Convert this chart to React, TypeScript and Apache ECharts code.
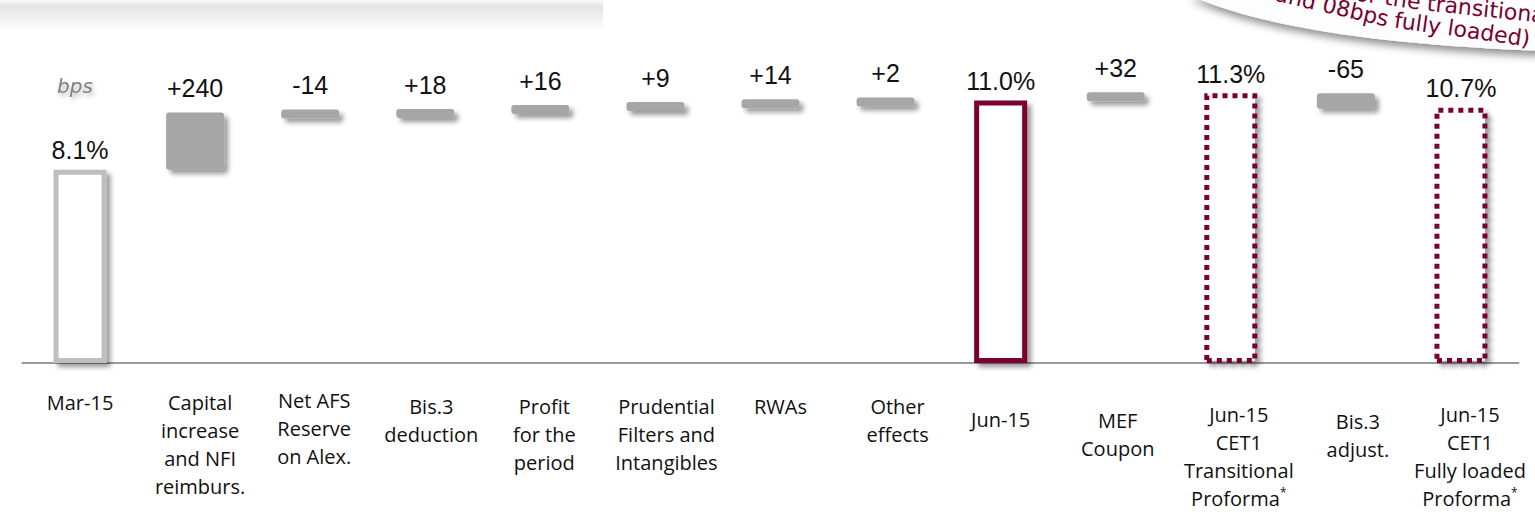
import React, { useEffect, useRef } from "react";
import * as echarts from "echarts";

// ---------- data ----------
const categories = [
  "Mar-15",
  "Capital\nincrease\nand NFI\nreimburs.",
  "Net AFS\nReserve\non Alex.",
  "Bis.3\ndeduction",
  "Profit\nfor the\nperiod",
  "Prudential\nFilters and\nIntangibles",
  "RWAs",
  "Other\neffects",
  "Jun-15",
  "MEF\nCoupon",
  "Jun-15\nCET1\nTransitional\nProforma*",
  "Bis.3\nadjust.",
  "Jun-15\nCET1\nFully loaded\nProforma*",
];
// CET1 ratio (%) for the total columns
const totals: (number | null)[] = [8.1, null, null, null, null, null, null, null, 11.0, null, 11.3, null, 10.7];
// kind of total column
const totalKinds = ["start", "", "", "", "", "", "", "", "actual", "", "proforma", "", "proforma"];
// changes in bps
const deltasBps: (number | null)[] = [null, 240, -14, 18, 16, 9, 14, 2, null, 32, null, -65, null];
// extra top / left padding of each category label
const labelOffsetsTop = [2, 2, 0, 6, 6, 6, 6, 6, 19, 20, 14, 21, 14];
const labelShiftX = [0, 5, 4, 6, 4, 11, 10, 12, 0, 2, 8, 12, 9];

const RED = "#7a0030";
const GREY_BAR = "#a6a6a6";

// ---------- derived waterfall ----------
const deltaData: number[][] = [];
{
  let running = 0;
  categories.forEach((_, i) => {
    const t = totals[i];
    const d = deltasBps[i];
    if (t != null) running = t;
    else if (d != null) {
      const start = running;
      const end = running + d / 100;
      deltaData.push([i, start, end, d]);
      running = end;
    }
  });
}

echarts.graphic.registerShape(
  "callout",
  echarts.graphic.extendPath("M1188,-6 C1250,24 1370,45 1545,51 L1545,-6 Z", {})
);

export default function App() {
  const ref = useRef<HTMLDivElement>(null);
  useEffect(() => {
    if (!ref.current) return;
    const chart = echarts.init(ref.current, undefined, { renderer: "svg" });
    const shadow = {
      shadowBlur: 5,
      shadowOffsetX: 4,
      shadowOffsetY: 4,
      shadowColor: "rgba(0,0,0,0.4)",
    };
    const totalData = totals.map((v, i) => {
      if (v == null) return "-";
      const kind = totalKinds[i];
      return {
        value: v,
        itemStyle: {
          color: "#ffffff",
          borderColor: kind === "start" ? "#bfbfbf" : RED,
          borderWidth: 5,
          borderType: kind === "proforma" ? [5, 5] : "solid",
          ...shadow,
        },
      };
    });
    const deg = Math.PI / 180;
    const calloutText = {
      fill: RED,
      fontFamily: "DejaVu Sans",
      fontSize: 22,
      verticalAlign: "bottom",
    };
    const option: any = {
      animation: false,
      grid: {
        left: 22.5,
        right: 16.5,
        top: 5,
        bottom: 149,
        containLabel: false,
        outerBoundsMode: "none",
      },
      xAxis: {
        type: "category",
        data: categories.map((c, i) => ({
          value: c,
          textStyle: { padding: [labelOffsetsTop[i], 0, 0, labelShiftX[i] * 2] },
        })),
        axisLine: { lineStyle: { color: "#9a9a9a", width: 2 } },
        axisTick: { show: false },
        axisLabel: {
          interval: 0,
          margin: 23,
          fontFamily: "Open Sans",
          fontSize: 20,
          lineHeight: 28,
          color: "#111111",
          formatter: (v: string) => v.replace("*", "{sup|*}"),
          rich: {
            sup: {
              fontFamily: "Open Sans",
              fontSize: 12,
              color: "#111111",
              padding: [0, 0, 12, 0],
            },
          },
        },
      },
      yAxis: { type: "value", min: 0, max: 15, show: false },
      graphic: [
        {
          type: "rect",
          z: 0,
          shape: { x: 0, y: 0, width: 603, height: 32 },
          style: {
            fill: new echarts.graphic.LinearGradient(0, 0, 0, 1, [
              { offset: 0, color: "#fbfbfb" },
              { offset: 0.18, color: "#e4e4e4" },
              { offset: 1, color: "#ffffff" },
            ]),
          },
        },
        {
          type: "callout",
          z: 1,
          x: 0,
          y: 0,
          style: {
            fill: "#fdfdfd",
            shadowBlur: 8,
            shadowOffsetX: 2,
            shadowOffsetY: 5,
            shadowColor: "rgba(0,0,0,0.45)",
          },
        },
        {
          type: "text",
          z: 2,
          x: 1426,
          y: 14,
          rotation: -8 * deg,
          style: { ...calloutText, text: "(+30bps for the ", align: "right" },
        },
        {
          type: "text",
          z: 2,
          x: 1426,
          y: 14,
          rotation: -6 * deg,
          style: { ...calloutText, text: "transitional", align: "left" },
        },
        {
          type: "text",
          z: 2,
          x: 1386,
          y: 30,
          rotation: -13 * deg,
          style: { ...calloutText, text: "and 08bps", align: "right" },
        },
        {
          type: "text",
          z: 2,
          x: 1386,
          y: 30,
          rotation: -8 * deg,
          style: { ...calloutText, text: " fully loaded)", align: "left" },
        },
        {
          type: "text",
          z: 2,
          x: 75,
          y: 86,
          style: {
            text: "bps",
            fill: "#7f7f7f",
            fontFamily: "DejaVu Sans",
            fontStyle: "italic",
            fontSize: 20,
            align: "center",
            verticalAlign: "middle",
            textShadowColor: "rgba(0,0,0,0.3)",
            textShadowBlur: 4,
            textShadowOffsetX: 2,
            textShadowOffsetY: 3,
          },
        },
      ],
      series: [
        {
          type: "bar",
          data: totalData,
          barWidth: 53,
          label: {
            show: true,
            position: "top",
            distance: 7,
            fontFamily: "Liberation Sans",
            fontSize: 25,
            color: "#111111",
            formatter: (p: any) => Number(p.value).toFixed(1) + "%",
          },
          z: 3,
        },
        {
          type: "custom",
          data: deltaData,
          encode: { x: 0, y: [1, 2] },
          z: 3,
          renderItem: (params: any, api: any) => {
            const i = api.value(0);
            const s = api.value(1);
            const e = api.value(2);
            const d = api.value(3);
            const p1 = api.coord([i, s]);
            const p2 = api.coord([i, e]);
            const w = 58;
            let top = Math.min(p1[1], p2[1]);
            let h = Math.abs(p1[1] - p2[1]);
            const minH = 9;
            if (h < minH) {
              top = (p1[1] + p2[1]) / 2 - minH / 2;
              h = minH;
            }
            return {
              type: "group",
              children: [
                {
                  type: "rect",
                  shape: { x: p1[0] - w / 2, y: top, width: w, height: h, r: 3 },
                  style: { fill: GREY_BAR, ...shadow },
                },
                {
                  type: "text",
                  x: p1[0],
                  y: top - 12,
                  style: {
                    text: (d > 0 ? "+" : "") + d,
                    fill: "#111111",
                    fontFamily: "Liberation Sans",
                    fontSize: 25,
                    align: "center",
                    verticalAlign: "bottom",
                  },
                },
              ],
            };
          },
        },
      ],
    };
    chart.setOption(option);
    return () => chart.dispose();
  }, []);
  return (
    <div
      ref={ref}
      style={{ position: "fixed", left: 0, top: 0, width: 1535, height: 512, background: "#fff" }}
    />
  );
}
